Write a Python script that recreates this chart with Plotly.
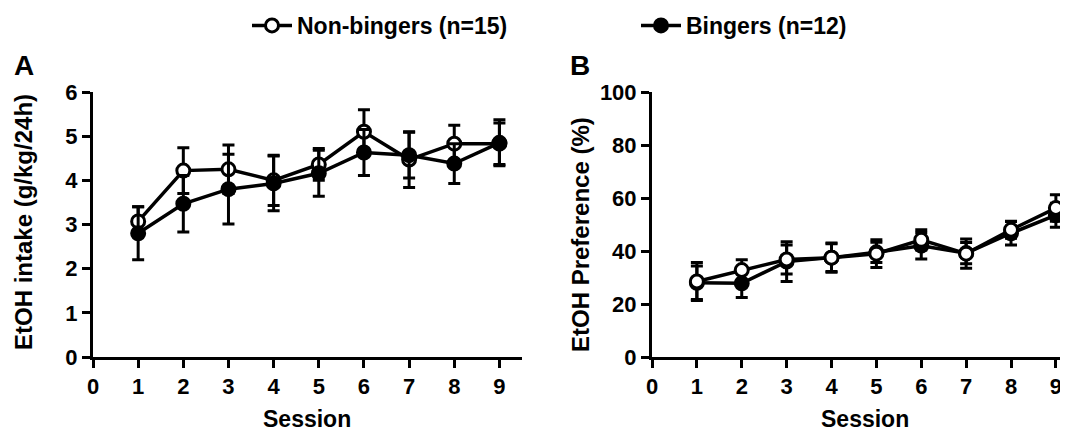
import plotly.graph_objects as go

FONT = "Liberation Sans"
BLACK = "black"

sessions = [1, 2, 3, 4, 5, 6, 7, 8, 9]

# Panel A: EtOH intake (g/kg/24h), mean and SEM
intake_non = [3.07, 4.22, 4.25, 4.00, 4.36, 5.10, 4.47, 4.83, 4.83]
intake_non_err = [0.33, 0.52, 0.55, 0.57, 0.36, 0.50, 0.63, 0.42, 0.47]
intake_bing = [2.80, 3.47, 3.80, 3.93, 4.16, 4.63, 4.57, 4.38, 4.85]
intake_bing_err = [0.60, 0.64, 0.79, 0.62, 0.52, 0.52, 0.52, 0.45, 0.52]

# Panel B: EtOH preference (%), mean and SEM
pref_non = [28.5, 32.8, 36.8, 37.5, 39.0, 44.2, 39.0, 48.0, 56.2]
pref_non_err = [7.2, 3.9, 5.5, 5.5, 5.2, 3.8, 5.5, 3.2, 5.0]
pref_bing = [28.0, 27.8, 36.0, 37.5, 39.5, 42.0, 39.2, 46.7, 53.5]
pref_bing_err = [6.3, 5.3, 7.5, 5.2, 3.8, 5.0, 4.0, 4.4, 4.5]

x_ticks = [0, 1, 2, 3, 4, 5, 6, 7, 8, 9]
yA_ticks = [0, 1, 2, 3, 4, 5, 6]
yB_ticks = [0, 20, 40, 60, 80, 100]

NON_NAME = "Non-bingers (n=15)"
BING_NAME = "Bingers (n=12)"

# page body keeps its default 8px margin, so the figure is 8px smaller
OFF = 8
W, H = 1068 - OFF, 434 - OFF


def px(x):
    return (x - OFF) / W


def py(y):
    return (H - (y - OFF)) / H


def make_trace(y, err, name, open_marker, xaxis, yaxis, show_legend, rank):
    return go.Scatter(
        x=sessions,
        y=y,
        name=name,
        mode="lines+markers",
        line=dict(color=BLACK, width=3.5),
        marker=dict(
            symbol="circle",
            size=13,
            color="white" if open_marker else BLACK,
            line=dict(color=BLACK, width=3),
        ),
        error_y=dict(type="data", array=err, color=BLACK, thickness=3, width=6),
        xaxis=xaxis,
        yaxis=yaxis,
        showlegend=show_legend,
        legendrank=rank,
    )


fig = go.Figure()
# panel A: filled markers drawn on top
fig.add_trace(make_trace(intake_non, intake_non_err, NON_NAME, True, "x", "y", True, 1))
fig.add_trace(make_trace(intake_bing, intake_bing_err, BING_NAME, False, "x", "y", True, 2))
# panel B: open markers drawn on top
fig.add_trace(make_trace(pref_bing, pref_bing_err, BING_NAME, False, "x2", "y2", False, 2))
fig.add_trace(make_trace(pref_non, pref_non_err, NON_NAME, True, "x2", "y2", False, 1))

y_dom = [py(357), py(92)]

axis_common = dict(
    showline=True,
    linecolor=BLACK,
    linewidth=3,
    ticks="outside",
    ticklen=8,
    tickwidth=3,
    tickcolor=BLACK,
    showgrid=False,
    zeroline=False,
    automargin=False,
    tickfont=dict(family=FONT, size=22, color=BLACK, weight="bold"),
)

fig.update_layout(
    width=W,
    height=H,
    margin=dict(l=0, r=0, t=0, b=0, autoexpand=False),
    paper_bgcolor="white",
    plot_bgcolor="white",
    font=dict(family=FONT, color=BLACK),
    xaxis=dict(axis_common, domain=[px(93), px(522)], range=[0, 9.5],
               tickvals=x_ticks, anchor="y"),
    yaxis=dict(axis_common, domain=y_dom, range=[0, 6],
               tickvals=yA_ticks, anchor="x"),
    xaxis2=dict(axis_common, domain=[px(652), 1.0], range=[0, 9.27],
                tickvals=x_ticks, anchor="y2"),
    yaxis2=dict(axis_common, domain=y_dom, range=[0, 100],
                tickvals=yB_ticks, anchor="x2"),
    legend=dict(
        orientation="h",
        x=px(247),
        xanchor="left",
        y=py(4),
        yanchor="top",
        itemwidth=40,
        entrywidth=334,
        entrywidthmode="pixels",
        font=dict(family=FONT, size=23, color=BLACK, weight="bold"),
        traceorder="normal",
    ),
)

title_font = dict(family=FONT, size=24, color=BLACK, weight="bold")
session_font = dict(family=FONT, size=23, color=BLACK, weight="bold")
annotations = [
    dict(text="Session", x=px(307), y=py(419), font=session_font),
    dict(text="Session", x=px(865), y=py(419), font=session_font),
    dict(text="EtOH intake (g/kg/24h)", x=px(24), y=py(222), textangle=-90,
         font=title_font),
    dict(text="EtOH Preference (%)", x=px(580), y=py(235), textangle=-90,
         font=title_font),
]
for a in annotations:
    fig.add_annotation(xref="paper", yref="paper", showarrow=False,
                       xanchor="center", yanchor="middle", **a)

panel_font = dict(family=FONT, size=28, color=BLACK, weight="bold")
for label, lx in [("A", 24), ("B", 580)]:
    fig.add_annotation(text=label, x=px(lx), y=py(65), xref="paper", yref="paper",
                       showarrow=False, xanchor="center", yanchor="middle", font=panel_font)

fig.write_html("out.html")
